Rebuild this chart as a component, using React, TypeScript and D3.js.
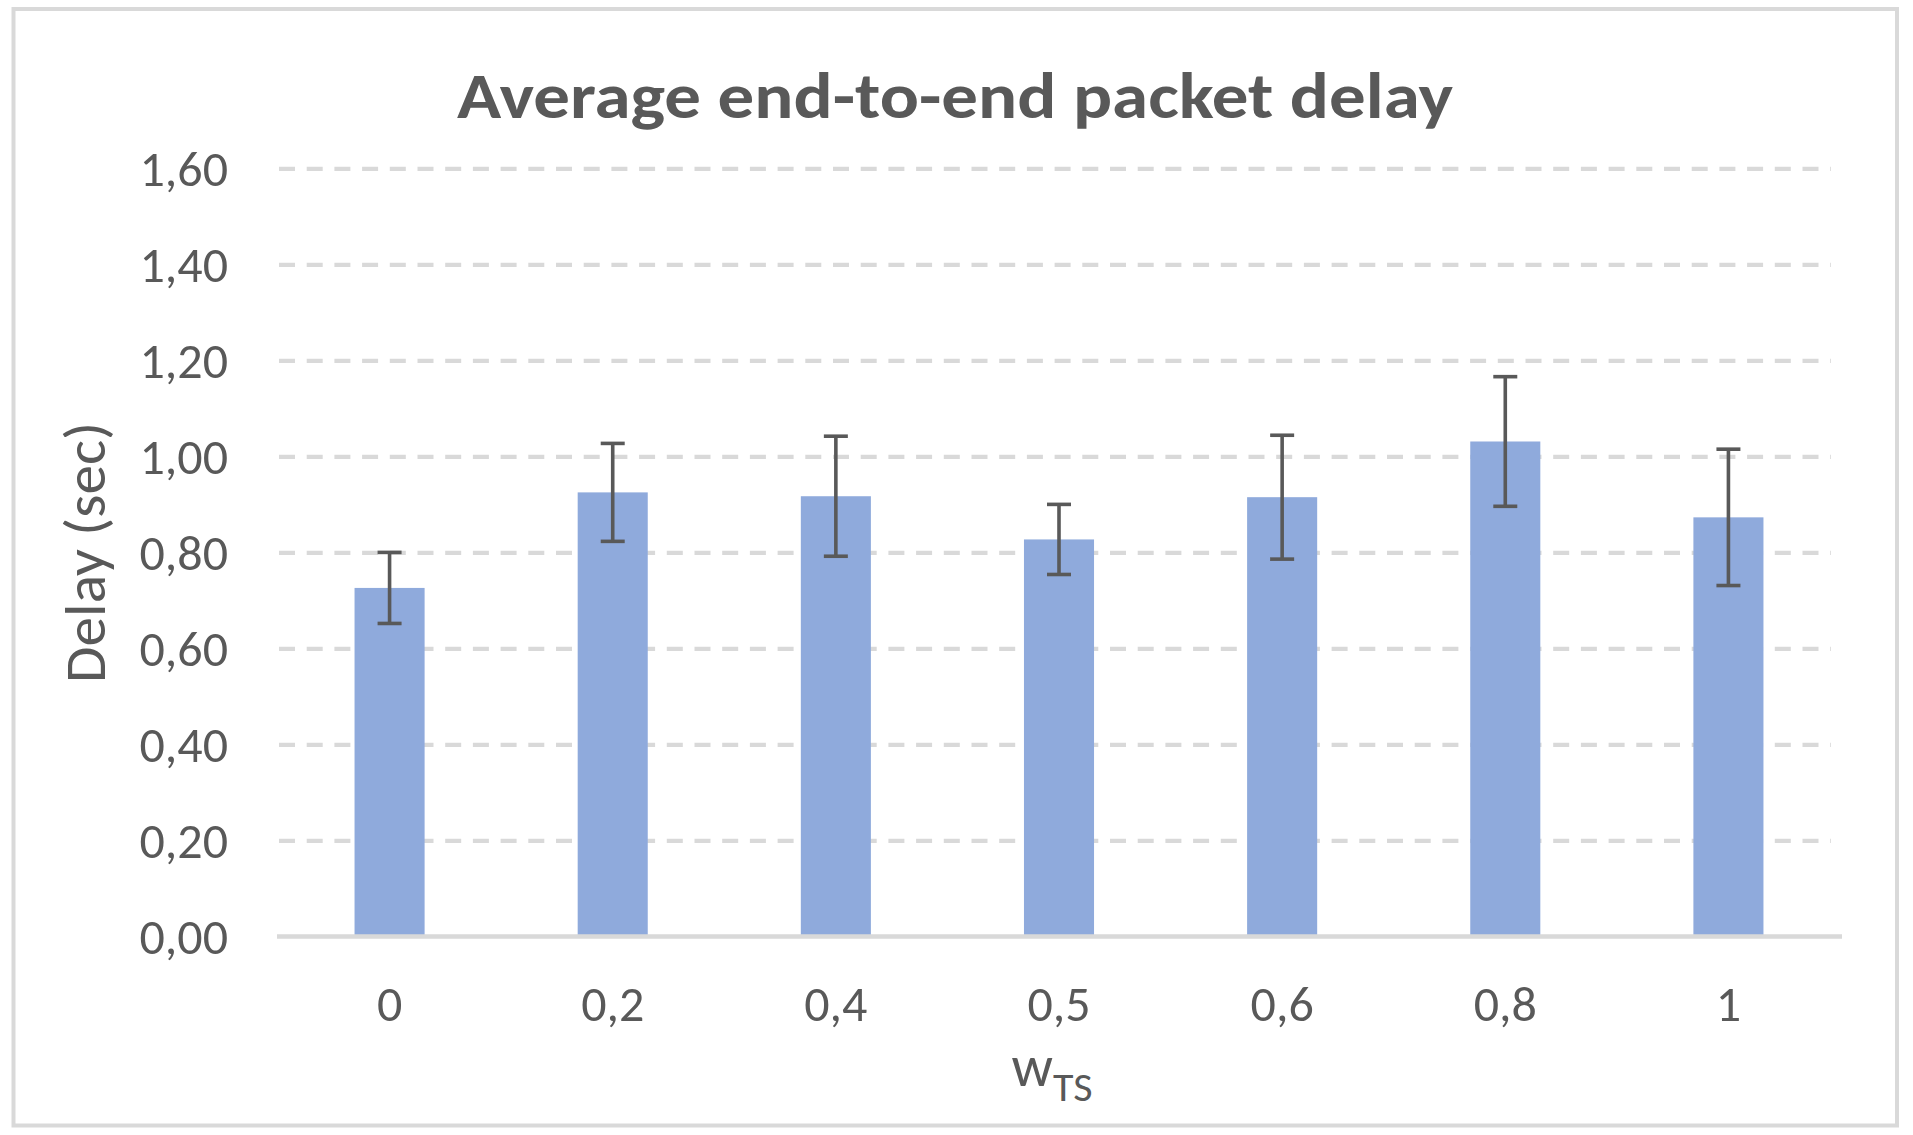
import { useEffect, useRef } from 'react'
import * as d3 from 'd3'

// values
const categories = ['0', '0,2', '0,4', '0,5', '0,6', '0,8', '1']
const delays = [0.726, 0.925, 0.917, 0.827, 0.915, 1.031, 0.873]
const errors = [0.074, 0.102, 0.125, 0.073, 0.129, 0.135, 0.142]
const yTicks = [0, 0.2, 0.4, 0.6, 0.8, 1.0, 1.2, 1.4, 1.6]

const WIDTH = 1913
const HEIGHT = 1135
const FONT = "Calibri, 'Open Sans', 'Noto Sans', sans-serif"
const TEXT = '#595959'
const GRID = '#d9d9d9'

export default function App() {
  const svgRef = useRef<SVGSVGElement>(null)

  useEffect(() => {
    if (!svgRef.current) return
    const svg = d3.select(svgRef.current)
    svg.selectAll('*').remove()

    const margin = { top: 168.3, right: 73, bottom: 198.5, left: 278 }
    const innerWidth = WIDTH - margin.left - margin.right
    const innerHeight = HEIGHT - margin.top - margin.bottom

    const locale = d3.formatLocale({ decimal: ',', thousands: '.', grouping: [3], currency: ['', '€'] })
    const fmt = locale.format('.2f')

    // chart frame
    svg.append('rect')
      .attr('width', WIDTH)
      .attr('height', HEIGHT)
      .attr('fill', '#fff')
    svg.append('rect')
      .attr('x', 13.5)
      .attr('y', 9)
      .attr('width', 1883.5)
      .attr('height', 1116.5)
      .attr('fill', 'none')
      .attr('stroke', GRID)
      .attr('stroke-width', 4)

    const g = svg.append('g')
      .attr('transform', `translate(${margin.left},${margin.top})`)

    const x = d3.scaleBand<string>()
      .domain(categories)
      .range([0, innerWidth])
      .paddingInner(0.686)
      .paddingOuter(0.343)

    const y = d3.scaleLinear()
      .domain([0, 1.6])
      .range([innerHeight, 0])

    // dashed gridlines
    const grid = g.append('g')
      .call(d3.axisLeft(y).tickValues(yTicks.slice(1)).tickSize(-(innerWidth - 9)).tickFormat(() => ''))
    grid.select('.domain').remove()
    grid.selectAll('line')
      .attr('x1', 1)
      .attr('stroke', GRID)
      .attr('stroke-width', 4.3)
      .attr('stroke-dasharray', '16 11.7')

    // Y tick labels
    const yAxis = g.append('g')
      .call(d3.axisLeft(y).tickValues(yTicks).tickSize(0).tickPadding(50).tickFormat((d) => fmt(d as number)))
    yAxis.select('.domain').remove()
    yAxis.selectAll('text')
      .attr('dy', '0.34em')
      .attr('fill', TEXT)
      .style('font-family', FONT)
      .style('font-size', '50px')

    // bars
    g.selectAll('rect.bar')
      .data(delays)
      .enter()
      .append('rect')
      .attr('class', 'bar')
      .attr('x', (_, i) => x(categories[i])!)
      .attr('y', (d) => y(d))
      .attr('width', x.bandwidth())
      .attr('height', (d) => innerHeight - y(d))
      .attr('fill', '#8faadc')

    // error bars
    const err = g.selectAll('g.err')
      .data(delays)
      .enter()
      .append('g')
      .attr('class', 'err')
      .attr('transform', (_, i) => `translate(${x(categories[i])! + x.bandwidth() / 2},0)`)
      .attr('stroke', TEXT)
      .attr('stroke-width', 3.6)

    err.append('line')
      .attr('y1', (d, i) => y(d + errors[i]))
      .attr('y2', (d, i) => y(d - errors[i]))
    err.append('line')
      .attr('x1', -12).attr('x2', 12)
      .attr('y1', (d, i) => y(d + errors[i]))
      .attr('y2', (d, i) => y(d + errors[i]))
    err.append('line')
      .attr('x1', -12).attr('x2', 12)
      .attr('y1', (d, i) => y(d - errors[i]))
      .attr('y2', (d, i) => y(d - errors[i]))

    // X axis
    const xAxis = g.append('g')
      .attr('transform', `translate(0,${innerHeight})`)
      .call(d3.axisBottom(x).tickSize(0).tickPadding(49))
    xAxis.select('.domain').remove()
    xAxis.selectAll('text')
      .attr('fill', TEXT)
      .style('font-family', FONT)
      .style('font-size', '50px')

    g.append('line')
      .attr('x1', -1)
      .attr('x2', innerWidth + 2)
      .attr('y1', innerHeight)
      .attr('y2', innerHeight)
      .attr('stroke', GRID)
      .attr('stroke-width', 4.5)

    // title
    svg.append('text')
      .attr('x', 955)
      .attr('y', 118.3)
      .attr('text-anchor', 'middle')
      .attr('textLength', 996)
      .attr('lengthAdjust', 'spacingAndGlyphs')
      .attr('fill', TEXT)
      .style('font-family', FONT)
      .style('font-size', '65px')
      .style('font-weight', 700)
      .text('Average end-to-end packet delay')

    // axis titles
    svg.append('text')
      .attr('transform', `translate(105,${margin.top + innerHeight / 2}) rotate(-90)`)
      .attr('text-anchor', 'middle')
      .attr('textLength', 261)
      .attr('lengthAdjust', 'spacingAndGlyphs')
      .attr('fill', TEXT)
      .style('font-family', FONT)
      .style('font-size', '58px')
      .text('Delay (sec)')

    const xt = svg.append('text')
      .attr('x', 1052)
      .attr('y', 1086)
      .attr('text-anchor', 'middle')
      .attr('fill', TEXT)
      .style('font-family', FONT)
    xt.append('tspan').style('font-size', '58px').text('w')
    xt.append('tspan').attr('dy', 15).style('font-size', '42px').text('TS')
  }, [])

  return (
    <div style={{ position: 'absolute', left: 0, top: 0, width: WIDTH, height: HEIGHT }}>
      <svg ref={svgRef} width={WIDTH} height={HEIGHT} />
    </div>
  )
}
